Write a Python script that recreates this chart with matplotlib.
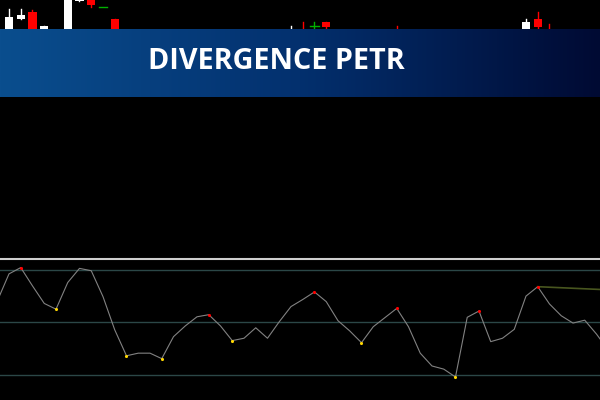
import numpy as np
import matplotlib.pyplot as plt
from matplotlib.patches import Rectangle
from matplotlib.colors import LinearSegmentedColormap

# price candles (index, open, high, low, close) - most sit under the banner
candle_idx = list(range(0, 51))
opens = [37.55, 37.81, 37.88, 37.50, 37.35, 37.40, 37.99, 38.05, 37.93, 37.81,
         37.55, 37.45, 37.40, 37.38, 37.42, 37.48, 37.50, 37.55, 37.52, 37.45,
         37.44, 37.48, 37.46, 37.50, 37.58, 37.66, 37.74, 37.78, 37.64, 37.58,
         37.52, 37.55, 37.60, 37.66, 37.58, 37.50, 37.42, 37.38, 37.30, 37.40,
         37.50, 37.52, 37.48, 37.52, 37.65, 37.81, 37.68, 37.62, 37.58, 37.55, 37.52]
closes = [37.83, 37.85, 37.52, 37.74, 37.40, 38.05, 38.08, 37.95, 37.93, 37.60,
          37.45, 37.40, 37.38, 37.42, 37.48, 37.50, 37.55, 37.52, 37.45, 37.44,
          37.48, 37.46, 37.50, 37.58, 37.66, 37.62, 37.74, 37.73, 37.58, 37.52,
          37.55, 37.60, 37.66, 37.60, 37.50, 37.42, 37.38, 37.30, 37.40, 37.50,
          37.52, 37.48, 37.52, 37.60, 37.78, 37.73, 37.62, 37.58, 37.55, 37.52, 37.56]
highs = [37.91, 37.91, 37.90, 37.74, 37.45, 38.10, 38.10, 38.05, 37.93, 37.81,
         37.58, 37.48, 37.44, 37.44, 37.50, 37.54, 37.58, 37.58, 37.55, 37.48,
         37.50, 37.50, 37.52, 37.62, 37.74, 37.78, 37.78, 37.78, 37.66, 37.60,
         37.58, 37.63, 37.68, 37.74, 37.60, 37.52, 37.44, 37.40, 37.42, 37.54,
         37.56, 37.54, 37.54, 37.62, 37.81, 37.88, 37.76, 37.64, 37.60, 37.58, 37.60]
lows = [37.50, 37.81, 37.48, 37.48, 37.30, 37.38, 37.99, 37.93, 37.93, 37.55,
        37.42, 37.36, 37.34, 37.35, 37.40, 37.45, 37.48, 37.50, 37.42, 37.40,
        37.42, 37.44, 37.44, 37.48, 37.55, 37.60, 37.68, 37.66, 37.55, 37.48,
        37.50, 37.52, 37.58, 37.58, 37.46, 37.38, 37.34, 37.26, 37.28, 37.38,
        37.46, 37.45, 37.45, 37.50, 37.62, 37.70, 37.60, 37.55, 37.52, 37.50, 37.50]

# oscillator line (index -1 .. 51)
osc_idx = list(range(-1, 52))
osc = [58.1, 68.5, 70.9, 63.9, 57.2, 55.0, 65.2, 70.6, 69.7, 59.8,
       47.1, 37.2, 38.2, 38.2, 36.1, 44.5, 48.6, 52.1, 52.9, 48.6,
       43.0, 43.9, 47.9, 43.9, 50.2, 56.0, 58.7, 61.6, 57.9, 50.6,
       46.7, 42.2, 48.3, 51.8, 55.3, 48.3, 38.2, 33.3, 32.1, 29.1,
       51.9, 54.3, 42.6, 43.9, 47.3, 60.0, 63.6, 57.0, 52.5, 49.7,
       50.8, 45.5, 39.4]
peaks = [1, 17, 26, 33, 40, 45]
troughs = [4, 10, 13, 19, 30, 38]
levels = [70, 50, 30]
div_x = [45, 51]
div_y = [63.6, 62.4]

title = "DIVERGENCE PETR"

fig = plt.figure(figsize=(6, 4), dpi=100, facecolor='black')
xlim = (-0.766, 50.3)

# price panel
ax1 = fig.add_axes([0, 142 / 400, 1, 258 / 400])
ax1.set_facecolor('black')
for i, o, h, l, c in zip(candle_idx, opens, highs, lows, closes):
    if abs(c - o) < 1e-9:
        col = '#00b000'
        ax1.plot([i, i], [l, h], color=col, lw=1)
        ax1.plot([i - 0.35, i + 0.35], [o, o], color=col, lw=1)
        continue
    col = 'white' if c > o else '#ff0000'
    ax1.plot([i, i], [l, h], color=col, lw=1, zorder=1)
    ax1.add_patch(Rectangle((i - 0.35, min(o, c)), 0.7, abs(c - o),
                            facecolor=col, edgecolor='none', zorder=2))
ax1.set_xlim(*xlim)
ax1.set_ylim(35.42, 38.00)
ax1.axis('off')

# oscillator panel
ax2 = fig.add_axes([0, 0, 1, 140 / 400])
ax2.set_facecolor('black')
for lv in levels:
    ax2.axhline(lv, color='#2b4747', lw=1)
ax2.plot(osc_idx, osc, color='#828282', lw=0.8)
ax2.plot(div_x, div_y, color='#48561f', lw=1.2)
osc_map = dict(zip(osc_idx, osc))
ax2.scatter(peaks, [osc_map[p] for p in peaks], s=5, color='#ff0000', zorder=3, linewidths=0)
ax2.scatter(troughs, [osc_map[t] for t in troughs], s=5, color='#ffd700', zorder=3, linewidths=0)
ax2.set_xlim(*xlim)
ax2.set_ylim(20.3, 73.8)
ax2.axis('off')

# separator
fig.add_artist(plt.Line2D([0, 1], [1 - 259 / 400] * 2, color='#cfcfcf', lw=1.5))

# gradient banner
bax = fig.add_axes([0, 1 - 97 / 400, 1, 68 / 400])
cmap = LinearSegmentedColormap.from_list('bn', ['#0a4e8e', '#03306e', '#000a33'])
bax.imshow(np.linspace(0, 1, 256).reshape(1, -1), aspect='auto', cmap=cmap, extent=(0, 1, 0, 1))
bax.set_xlim(0, 1)
bax.set_ylim(0, 1)
bax.axis('off')
bax.text(276 / 600, 0.407, title, color='white', fontsize=20.7, fontweight='bold',
         family='Open Sans', ha='center', va='baseline')

fig.savefig('out.png', dpi=100, facecolor='black')
